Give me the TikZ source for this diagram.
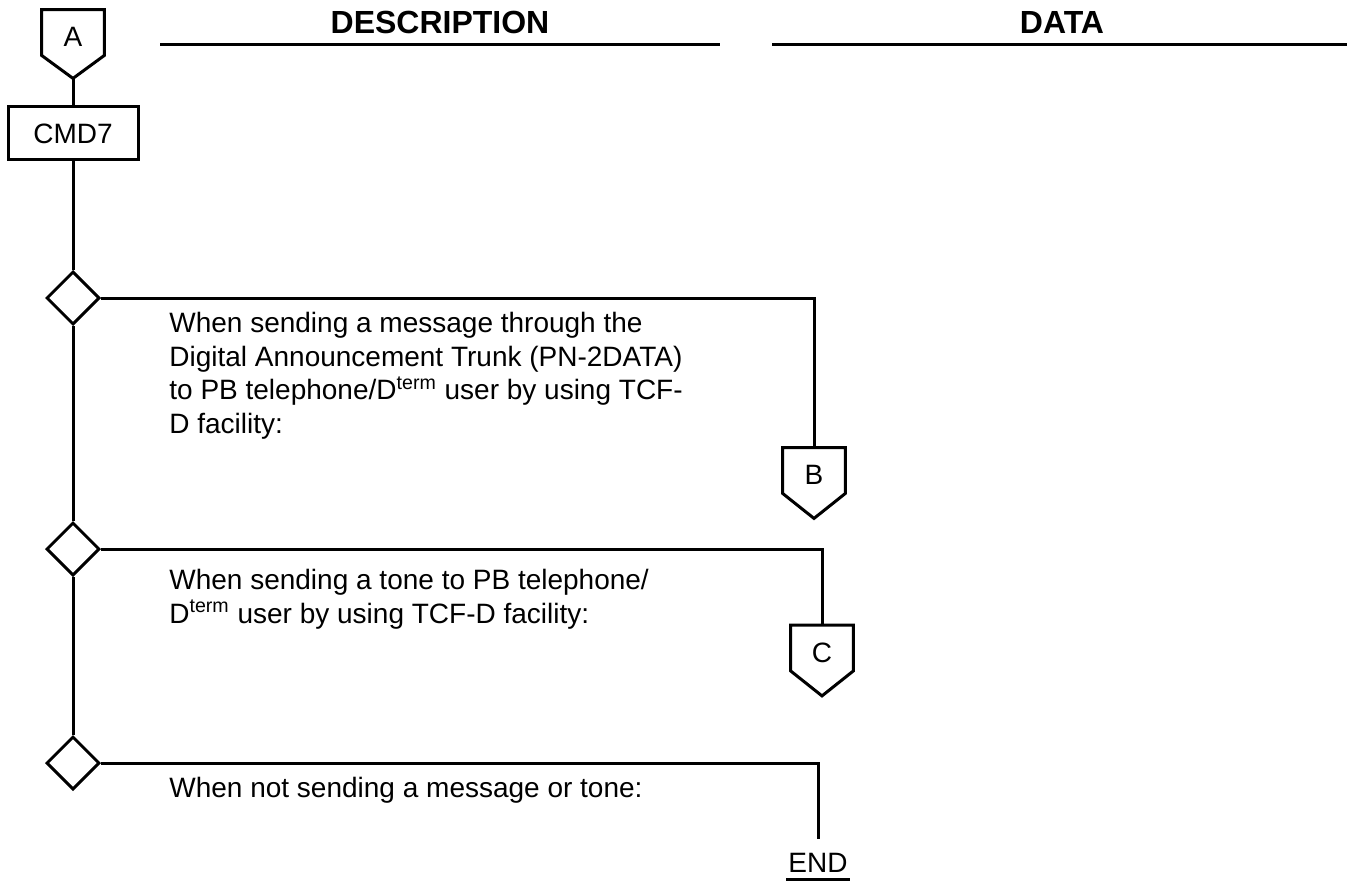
\documentclass[tikz,border=0pt]{standalone}
\usepackage{fontspec}
\setmainfont{Liberation Sans}
\usetikzlibrary{shapes.geometric}

\tikzset{
  flow/.style={line width=1.5pt},
  cmdbox/.style={draw, line width=1.5pt, minimum width=65pt, minimum height=26.5pt, inner sep=0pt, font=\fontsize{14}{16.75}\selectfont},
  decision/.style={draw, diamond, line width=1.5pt, minimum width=26.5pt, minimum height=26.5pt, inner sep=0pt},
  conbox/.style={minimum width=31pt, minimum height=22.5pt, inner sep=0pt, text height=14pt, text depth=0pt, font=\fontsize{14}{16.75}\selectfont},
  desc/.style={anchor=north west, inner sep=0pt, align=left, font=\fontsize{14}{16.75}\selectfont},
  header/.style={anchor=base, inner sep=0pt, font=\bfseries\fontsize{16}{19}\selectfont},
  endlbl/.style={anchor=base, inner xsep=1pt, inner ysep=3.5pt, font=\fontsize{14}{16.75}\selectfont}
}

\newcommand{\offpage}[4]{%
  \node[conbox] (#1) at (#2) {#3};
  \draw[flow] (#1.south west) -- (#1.north west) -- (#1.north east) -- (#1.south east) -- ([yshift=-#4]#1.south) -- cycle;
  \coordinate (#1tip) at ([yshift=-#4]#1.south);
}

\begin{document}
\begin{tikzpicture}[x=0.5pt, y=-0.5pt]
  \useasboundingbox (0,0) rectangle (1351,883);

  \node[header] (deschead) at (440,34) {DESCRIPTION};
  \node[header] (datahead) at (1062,34) {DATA};
  \draw[flow] (160,45) -- (720,45);
  \draw[flow] (772,45) -- (1347,45);

  \offpage{A}{73,32.5}{A}{11.5pt}
  \node[cmdbox] (cmd) at (73,133.5) {CMD7};
  \node[decision] (d1) at (73,298) {};
  \node[decision] (d2) at (73,549) {};
  \node[decision] (d3) at (73,763) {};
  \offpage{B}{814,470.5}{B}{12.5pt}
  \offpage{C}{822,648}{C}{12.5pt}
  \node[endlbl] (end) at (818,872) {END};

  \node[desc] (t1) at (169,312) {When sending a message through the\\Digital Announcement Trunk (PN-2DATA)\\to PB telephone/D\textsuperscript{term} user by using TCF-\\D facility:};
  \node[desc] (t2) at (169,569) {When sending a tone to PB telephone/\\D\textsuperscript{term} user by using TCF-D facility:};
  \node[desc] (t3) at (169,777) {When not sending a message or tone:};

  \draw[flow] (Atip) -- (cmd.north);
  \draw[flow] (cmd.south) -- (d1.north) (d1.south) -- (d2.north) (d2.south) -- (d3.north);
  \draw[flow] (d1.east) -| (B.north);
  \draw[flow] (d2.east) -| (C.north);
  \draw[flow] (d3.east) -| ([yshift=3pt]end.north);
  \draw[flow] (end.south west) -- (end.south east);
\end{tikzpicture}
\end{document}
